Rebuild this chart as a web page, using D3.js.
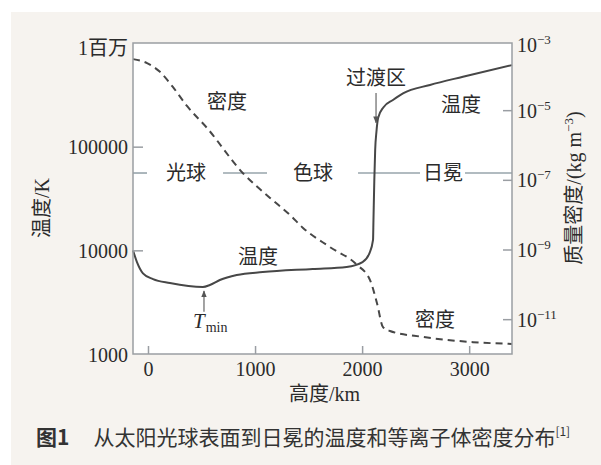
<!DOCTYPE html>
<html>
<head>
<meta charset="utf-8">
<script src="https://cdn.jsdelivr.net/npm/d3@7"></script>
<style>
  html, body { margin: 0; padding: 0; background: #fff; }
  svg { display: block; }
</style>
</head>
<body>
<svg id="chart"></svg>
<script>
// 高度 (km) 与温度 (K)
const tempHeights = [-140, -103, -47, 47, 205, 513, 578, 671, 829, 1072, 1538, 1855, 2004, 2069,
  2102, 2106, 2114, 2122, 2134, 2150, 2200, 2288, 2382, 2634, 2942, 3400];
const tempValues = [10000, 7700, 6000, 5280, 4840, 4430, 4630, 5170, 5780, 6170, 6610, 6920, 7700, 9420,
  12600, 19600, 47700, 92900, 140000, 190000, 240000, 282000, 327000, 394000, 473000, 612000];

// 高度 (km) 与质量密度 (kg m^-3)
const densHeights = [-140, -9, 112, 234, 364, 551, 887, 1140, 1326, 1448, 1700, 1952, 2074, 2139,
  2195, 2260, 2569, 3036, 3400];
const densValues = [2.92e-4, 2.24e-4, 1.26e-4, 4.57e-5, 1.32e-5, 3.09e-6, 1.55e-7, 3.02e-8, 9.8e-9,
  4.17e-9, 1.17e-9, 3.63e-10, 1.32e-10, 2.88e-11, 5.9e-12, 4.57e-12, 3.09e-12, 2.19e-12, 1.95e-12];

const xTicks = [0, 1000, 2000, 3000];
const tempTicks = [1000, 10000, 100000, 1000000];
const tempTickLabels = ["1000", "10000", "100000", "1百万"];
const densTicks = [1e-11, 1e-9, 1e-7, 1e-5, 1e-3];
const densTickExps = ["−11", "−9", "−7", "−5", "−3"];

// 分层: 名称、中心高度、留空范围 (km)
const layers = ["光球", "色球", "日冕"];
const layerCenters = [355, 1541, 2755];
const layerGaps = [[-9, 701], [1112, 1962], [2541, 2961]];
const layerTemp = 55700;

const width = 601, height = 465;
const marginLeft = 133, marginRight = 89, marginTop = 43, marginBottom = 111;

const svg = d3.select("#chart")
  .attr("width", width)
  .attr("height", height)
  .attr("viewBox", [0, 0, width, height]);

const serif = "'Liberation Serif', 'Noto Sans CJK SC', serif";
const cjk = "'Noto Sans CJK SC', sans-serif";
const axisColor = "#9a9ea3";
const lineColor = "#474747";
const textColor = "#2b2b2b";

// 背景
svg.append("rect").attr("width", width).attr("height", height).attr("fill", "#fff");
svg.append("rect").attr("x", 11).attr("y", 12).attr("width", width - 11).attr("height", height - 12)
  .attr("fill", "#f6f3ef");

const x = d3.scaleLinear()
  .domain([-140, 3400])
  .range([marginLeft, width - marginRight]);

const yT = d3.scaleLog()
  .domain([1000, 1e6])
  .range([height - marginBottom, marginTop]);

const yD = d3.scaleLog()
  .domain([1e-12, 1e-3])
  .range([height - marginBottom, marginTop - 2.5]);

svg.append("rect")
  .attr("x", marginLeft).attr("y", marginTop)
  .attr("width", width - marginRight - marginLeft)
  .attr("height", height - marginBottom - marginTop)
  .attr("fill", "#fff");

// 分层线
const segs = [];
let start = x.domain()[0];
layerGaps.forEach(g => { segs.push([start, g[0]]); start = g[1]; });
segs.push([start, x.domain()[1]]);
svg.append("g")
  .attr("stroke", "#97a4ab")
  .attr("stroke-width", 1.6)
  .selectAll("line")
  .data(segs)
  .join("line")
  .attr("x1", d => x(d[0]))
  .attr("x2", d => x(d[1]))
  .attr("y1", yT(layerTemp))
  .attr("y2", yT(layerTemp));

svg.append("g")
  .attr("font-family", cjk)
  .attr("font-size", 20)
  .attr("fill", textColor)
  .attr("text-anchor", "middle")
  .selectAll("text")
  .data(layers)
  .join("text")
  .attr("x", (d, i) => x(layerCenters[i]))
  .attr("y", yT(layerTemp))
  .attr("dy", "0.35em")
  .text(d => d);

// 曲线
const tempData = tempHeights.map((h, i) => [h, tempValues[i]]);
const densData = densHeights.map((h, i) => [h, densValues[i]]);

svg.append("path")
  .datum(densData)
  .attr("fill", "none")
  .attr("stroke", lineColor)
  .attr("stroke-width", 2)
  .attr("stroke-dasharray", "7,5")
  .attr("d", d3.line().x(d => x(d[0])).y(d => yD(d[1])).curve(d3.curveMonotoneX));

svg.append("path")
  .datum(tempData)
  .attr("fill", "none")
  .attr("stroke", lineColor)
  .attr("stroke-width", 2)
  .attr("d", d3.line().x(d => x(d[0])).y(d => yT(d[1])).curve(d3.curveMonotoneX));

// 坐标框
svg.append("rect")
  .attr("x", marginLeft).attr("y", marginTop)
  .attr("width", width - marginRight - marginLeft)
  .attr("height", height - marginBottom - marginTop)
  .attr("fill", "none")
  .attr("stroke", axisColor)
  .attr("stroke-width", 1.5);

// 底部轴
svg.append("g")
  .attr("transform", `translate(0,${height - marginBottom})`)
  .call(d3.axisBottom(x).tickValues(xTicks).tickFormat(d3.format("d"))
    .tickSizeInner(-8).tickSizeOuter(0).tickPadding(8))
  .call(g => g.select(".domain").remove())
  .call(g => g.selectAll(".tick line").attr("stroke", axisColor).attr("stroke-width", 1.5))
  .call(g => g.selectAll(".tick text").attr("font-family", serif).attr("font-size", 20).attr("fill", textColor));

// 左轴
svg.append("g")
  .attr("transform", `translate(${marginLeft},0)`)
  .call(d3.axisLeft(yT).tickValues(tempTicks).tickFormat((d, i) => tempTickLabels[i])
    .tickSizeInner(-10).tickSizeOuter(0).tickPadding(5))
  .call(g => g.select(".domain").remove())
  .call(g => g.selectAll(".tick line").attr("stroke", axisColor).attr("stroke-width", 1.5)
    .attr("display", d => (d === 1000 || d === 1e6) ? "none" : null))
  .call(g => g.selectAll(".tick text").attr("font-family", serif).attr("font-size", 20).attr("fill", textColor)
    .attr("dy", d => d === 1e6 ? "0.55em" : "0.35em"));

// 右轴
const right = svg.append("g")
  .attr("transform", `translate(${width - marginRight},0)`)
  .call(d3.axisRight(yD).tickValues(densTicks).tickFormat("").tickSizeInner(-9).tickSizeOuter(0).tickPadding(5))
  .call(g => g.select(".domain").remove())
  .call(g => g.selectAll(".tick line").attr("stroke", axisColor).attr("stroke-width", 1.5)
    .attr("display", d => d === 1e-3 ? "none" : null));

right.selectAll(".tick").each(function(d, i) {
  const t = d3.select(this).select("text")
    .attr("x", 5)
    .attr("dy", d === 1e-3 ? "0.55em" : "0.35em")
    .attr("font-family", serif)
    .attr("font-size", 20)
    .attr("fill", textColor)
    .attr("text-anchor", "start");
  t.append("tspan").text("10");
  t.append("tspan").attr("font-size", 13).attr("dy", -8).text(densTickExps[i]);
});

// 轴标题
svg.append("text")
  .attr("transform", `translate(${marginLeft + (width - marginRight - marginLeft) / 2 + 2},${height - 64})`)
  .attr("text-anchor", "middle")
  .attr("font-family", serif)
  .attr("font-size", 20)
  .attr("fill", textColor)
  .text("高度/km");

svg.append("text")
  .attr("transform", `translate(${49},${208}) rotate(-90)`)
  .attr("text-anchor", "middle")
  .attr("font-family", serif)
  .attr("font-size", 20)
  .attr("fill", textColor)
  .text("温度/K");

const rt = svg.append("text")
  .attr("transform", `translate(${581},${188}) rotate(-90)`)
  .attr("text-anchor", "middle")
  .attr("font-family", serif)
  .attr("font-size", 20)
  .attr("fill", textColor);
rt.append("tspan").text("质量密度/(kg m");
rt.append("tspan").attr("font-size", 13).attr("dy", -8).text("−3");
rt.append("tspan").attr("dy", 8).text(")");

// 注释
const notes = [
  {text: "密度", h: 738, t: 270000},
  {text: "过渡区", h: 2130, t: 459000},
  {text: "温度", h: 2924, t: 252000},
  {text: "温度", h: 1027, t: 8630},
  {text: "密度", h: 2681, t: 2130}
];
svg.append("g")
  .attr("font-family", cjk)
  .attr("font-size", 20)
  .attr("fill", textColor)
  .attr("text-anchor", "middle")
  .selectAll("text")
  .data(notes)
  .join("text")
  .attr("x", d => x(d.h))
  .attr("y", d => yT(d.t))
  .attr("dy", "0.35em")
  .text(d => d.text);

// 箭头
svg.append("defs").append("marker")
  .attr("id", "arr")
  .attr("viewBox", "0 0 10 10")
  .attr("refX", 9).attr("refY", 5)
  .attr("markerWidth", 7).attr("markerHeight", 7)
  .attr("markerUnits", "userSpaceOnUse")
  .attr("orient", "auto")
  .append("path").attr("d", "M0,1L10,5L0,9Z").attr("fill", "#555");

const arrows = [
  {h: 2130, t0: 330000, t1: 170000},
  {h: 523, t0: 2560, t1: 4050}
];
svg.append("g")
  .attr("stroke", "#666")
  .attr("stroke-width", 1.2)
  .selectAll("line")
  .data(arrows)
  .join("line")
  .attr("x1", d => x(d.h)).attr("x2", d => x(d.h))
  .attr("y1", d => yT(d.t0)).attr("y2", d => yT(d.t1))
  .attr("marker-end", "url(#arr)");

const tm = svg.append("text")
  .attr("x", x(523) - 11)
  .attr("y", yT(2560) + 16)
  .attr("font-family", serif)
  .attr("font-size", 21)
  .attr("fill", textColor);
tm.append("tspan").attr("font-style", "italic").text("T");
tm.append("tspan").attr("font-size", 14).attr("dy", 4).attr("dx", 1).text("min");

// 图注
const cap = svg.append("text")
  .attr("x", 36)
  .attr("y", 445)
  .attr("font-family", cjk)
  .attr("font-size", 21)
  .attr("fill", "#333");
cap.append("tspan").attr("font-weight", "bold").text("图1");
cap.append("tspan").attr("dx", 24).text("从太阳光球表面到日冕的温度和等离子体密度分布");
cap.append("tspan").attr("font-size", 12).attr("dy", -9).text("[1]");
</script>
</body>
</html>
